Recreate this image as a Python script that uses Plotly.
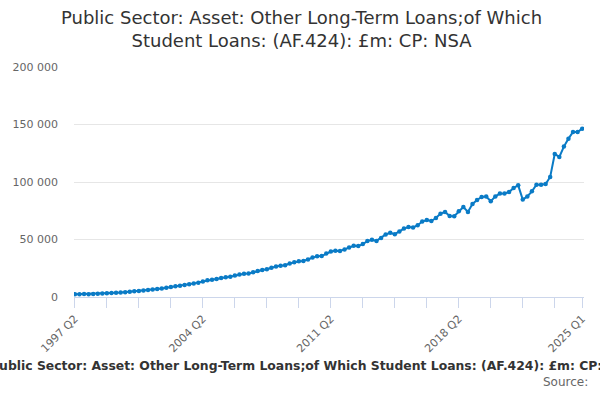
import plotly.graph_objects as go

# Quarterly values, £m, 1997 Q2 .. 2025 Q1
values = [
    2400, 2500, 2600, 2500, 2600, 2800, 3000, 3200, 3400, 3700,
    3900, 4200, 4500, 4900, 5300, 5600, 6000, 6500, 6900, 7400,
    8000, 8700, 9300, 9800, 10400, 11100, 11700, 12500, 13500, 14500,
    15000, 15600, 16600, 17200, 17700, 18700, 19600, 20300, 20500, 21600,
    22600, 23400, 24100, 25400, 26500, 27200, 27700, 29200, 30300, 31100,
    31300, 32700, 34300, 35500, 35600, 37800, 39500, 40200, 40000, 41400,
    43100, 44500, 44300, 46000, 48600, 49700, 48800, 51400, 54400, 55800,
    54600, 57000, 59500, 60900, 60400, 62400, 65600, 67000, 66100, 68700,
    72500, 73900, 70400, 70200, 74500, 78300, 74000, 80900, 84400, 87000,
    87300, 83200, 87500, 89900, 90100, 91300, 94800, 97100, 84700, 87500,
    91900, 97700, 97700, 98300, 104400, 124400, 121800, 130800, 137700, 143500,
    143500, 146400,
]

start_year = 1997
start_quarter = 2
quarters = []
yr, q = start_year, start_quarter
for _ in values:
    quarters.append(f"{yr} Q{q}")
    q += 1
    if q > 4:
        q = 1
        yr += 1

labelled_quarters = ["1997 Q2", "2004 Q2", "2011 Q2", "2018 Q2", "2025 Q1"]
tick_quarters = quarters[::7] + [quarters[-1]]
tick_text = [t if t in labelled_quarters else "" for t in tick_quarters]

y_ticks = [0, 50000, 100000, 150000, 200000]

title_text = "Public Sector: Asset: Other Long-Term Loans;of Which<br>Student Loans: (AF.424): £m: CP: NSA"
caption_text = "Public Sector: Asset: Other Long-Term Loans;of Which Student Loans: (AF.424): £m: CP: NSA"
source_text = "Source:"

FONT = "DejaVu Sans"
LINE_COLOR = "#0a7bc6"

# plot area in pixels
L, R, T, B = 71, 584, 66.7, 297.3
PW, PH = R - L, B - T


def px(x):
    return (x - L) / PW


def py(y):
    return (B - y) / PH


fig = go.Figure()
fig.add_trace(go.Scatter(
    x=quarters,
    y=values,
    mode="lines+markers",
    line=dict(color=LINE_COLOR, width=2),
    marker=dict(color=LINE_COLOR, size=4.5),
    showlegend=False,
    hoverinfo="skip",
))

fig.update_layout(
    width=600,
    height=400,
    paper_bgcolor="white",
    plot_bgcolor="white",
    separators=". ",
    font=dict(family=FONT, color="#333333"),
    margin=dict(l=L, r=600 - R, t=T, b=400 - B),
    xaxis=dict(
        type="category",
        range=[-0.2, len(values) - 1 + 0.4],
        tickmode="array",
        tickvals=tick_quarters,
        ticktext=tick_text,
        tickangle=-45,
        ticks="outside",
        ticklen=10,
        tickcolor="#ccd6eb",
        showline=True,
        linecolor="#ccd6eb",
        linewidth=1,
        showgrid=False,
        zeroline=False,
        tickfont=dict(family=FONT, size=11, color="#666666"),
    ),
    yaxis=dict(
        range=[0, 200000],
        tickmode="array",
        tickvals=y_ticks,
        tickformat=",d",
        showgrid=True,
        gridcolor="#e6e6e6",
        gridwidth=1,
        zeroline=False,
        showline=False,
        ticks="",
        ticklabelstandoff=15,
        tickfont=dict(family=FONT, size=11, color="#666666"),
    ),
    annotations=[
        dict(
            text=title_text,
            xref="paper", yref="paper",
            x=px(300), y=py(29),
            xanchor="center", yanchor="middle",
            showarrow=False,
            font=dict(family=FONT, size=18, color="#333333"),
        ),
        dict(
            text="<b>" + caption_text + "</b>",
            xref="paper", yref="paper",
            x=px(311), y=py(366),
            xanchor="center", yanchor="middle",
            showarrow=False,
            font=dict(family=FONT, size=12.4, color="#333333"),
        ),
        dict(
            text=source_text,
            xref="paper", yref="paper",
            x=px(590), y=py(383),
            xanchor="right", yanchor="middle",
            showarrow=False,
            font=dict(family=FONT, size=12, color="#666666"),
        ),
    ],
)

fig.write_html(
    "out.html",
    config={"displayModeBar": False},
    post_script="document.body.style.margin='0';document.body.style.overflow='hidden';",
)
